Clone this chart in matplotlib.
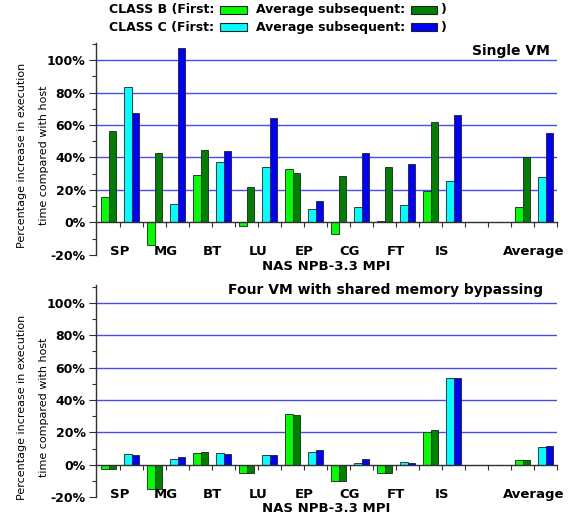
import matplotlib
matplotlib.use("Agg")
import matplotlib.pyplot as plt
from matplotlib.patches import Rectangle
from matplotlib.ticker import FixedLocator, MultipleLocator, FuncFormatter
import numpy as np

benchmarks = ["SP", "MG", "BT", "LU", "EP", "CG", "FT", "IS", "Average"]

single_b_first = [15.4, -14.0, 29.4, -2.5, 32.6, -7.0, 0.8, 19.3, 9.4]
single_b_subs = [56.5, 42.5, 44.4, 22.0, 30.6, 28.5, 34.0, 61.8, 40.0]
single_c_first = [83.4, 11.3, 37.0, 33.9, 8.0, 9.7, 10.9, 25.3, 27.7]
single_c_subs = [67.4, 107.4, 43.7, 64.0, 13.1, 42.5, 36.0, 66.3, 55.0]

four_b_first = [-2.7, -15.0, 7.4, -5.2, 31.3, -9.7, -4.7, 20.2, 2.9]
four_b_subs = [-2.7, -15.0, 7.8, -5.2, 30.9, -9.7, -4.7, 21.6, 2.9]
four_c_first = [6.6, 3.9, 7.2, 6.4, 7.8, 1.2, 1.6, 53.6, 10.9]
four_c_subs = [6.2, 4.9, 7.0, 5.8, 9.1, 3.5, 1.4, 53.6, 11.5]

yticks = [-20, 0, 20, 40, 60, 80, 100]

C_BF = "#00ff00"
C_BS = "#008000"
C_CF = "#00ffff"
C_CS = "#0000ff"
GRID = "#4a4af0"
FONT = "DejaVu Sans"

W, H = 577, 519
fig = plt.figure(figsize=(W / 100, H / 100), dpi=100)

# group slot positions: 8 benchmarks, an empty gap, then Average
slots = np.array([2 * i for i in range(len(benchmarks) - 1)] + [2 * len(benchmarks)])
bw = 0.326


def px(x0, y0, x1, y1):
    return [x0 / W, 1 - y1 / H, (x1 - x0) / W, (y1 - y0) / H]


def draw(ax, bf, bs, cf, cs, ytop, title, tpos, tha):
    ax.set_axisbelow(True)
    for val in [20, 40, 60, 80, 100]:
        ax.axhline(val, color=GRID, lw=1.0, zorder=0)
    xb = slots + 0.5
    xc = slots + 1.5
    kw = dict(width=bw, edgecolor="#202020", linewidth=0.6, zorder=2)
    ax.bar(xb - bw / 2, bf, color=C_BF, **kw)
    ax.bar(xb + bw / 2, bs, color=C_BS, **kw)
    ax.bar(xc - bw / 2, cf, color=C_CF, **kw)
    ax.bar(xc + bw / 2, cs, color=C_CS, **kw)
    ax.set_xlim(-0.05, 20)
    ax.set_ylim(-20, ytop)
    for s in ["top", "right"]:
        ax.spines[s].set_visible(False)
    ax.spines["bottom"].set_position(("data", 0))
    ax.spines["bottom"].set_color("#303030")
    ax.spines["left"].set_color("#303030")
    ax.spines["left"].set_linewidth(1.0)
    ax.spines["bottom"].set_linewidth(1.0)
    ax.xaxis.set_major_locator(FixedLocator(list(range(1, 21))))
    ax.tick_params(axis="x", direction="out", length=3.5, width=0.8,
                   labelbottom=False, color="#303030")
    ax.set_yticks(yticks)
    ax.yaxis.set_minor_locator(MultipleLocator(10))
    ax.yaxis.set_major_formatter(FuncFormatter(lambda v, p: f"{int(v)}%"))
    ax.tick_params(axis="y", which="major", direction="out", length=5, width=0.8,
                   pad=2.5, color="#303030")
    ax.tick_params(axis="y", which="minor", direction="out", length=3, width=0.8,
                   color="#303030")
    for lab in ax.get_yticklabels():
        lab.set_fontweight("bold")
        lab.set_fontsize(9)
        lab.set_family(FONT)
    for i, name in enumerate(benchmarks):
        ax.text(slots[i] + 1, -18, name, ha="center", va="center",
                fontsize=9.5, fontweight="bold", family=FONT)
    ax.text(tpos[0], tpos[1], title, transform=ax.transAxes, ha=tha, va="center",
            fontsize=10, fontweight="bold", family=FONT)


ax1 = fig.add_axes(px(96, 43, 557, 254.8))
draw(ax1, single_b_first, single_b_subs, single_c_first, single_c_subs, 110.5,
     "Single VM", (0.985, 0.962), "right")

ax2 = fig.add_axes(px(96, 285, 557, 497.3))
draw(ax2, four_b_first, four_b_subs, four_c_first, four_c_subs, 111,
     "Four VM with shared memory bypassing", (0.628, 0.976), "center")

# x labels
for yc in [266, 508.5]:
    fig.text(326.5 / W, 1 - yc / H, "NAS NPB-3.3 MPI", ha="center", va="center",
             fontsize=9.5, fontweight="bold", family=FONT)

# y labels (two lines)
for yc in [155, 407]:
    fig.text(22 / W, 1 - yc / H, "Percentage increase in execution", rotation=90,
             ha="center", va="center", fontsize=8, family=FONT)
    fig.text(44 / W, 1 - yc / H, "time compared with host", rotation=90,
             ha="center", va="center", fontsize=8, family=FONT)

# legend header
legend_rows = [("CLASS B (First:", C_BF, C_BS, 10), ("CLASS C (First:", C_CF, C_CS, 27)]
for label, c1, c2, yc in legend_rows:
    fig.text(109 / W, 1 - yc / H, label, ha="left", va="center",
             fontsize=9, fontweight="bold", family=FONT)
    fig.patches.append(Rectangle((220 / W, 1 - (yc + 3.5) / H), 27 / W, 7 / H,
                                 transform=fig.transFigure, facecolor=c1,
                                 edgecolor="#202020", linewidth=0.8))
    fig.text(256 / W, 1 - yc / H, "Average subsequent:", ha="left", va="center",
             fontsize=9, fontweight="bold", family=FONT)
    fig.patches.append(Rectangle((411 / W, 1 - (yc + 3.5) / H), 26 / W, 7 / H,
                                 transform=fig.transFigure, facecolor=c2,
                                 edgecolor="#202020", linewidth=0.8))
    fig.text(441 / W, 1 - yc / H, ")", ha="left", va="center",
             fontsize=9, fontweight="bold", family=FONT)

fig.savefig("out.png", dpi=100)
